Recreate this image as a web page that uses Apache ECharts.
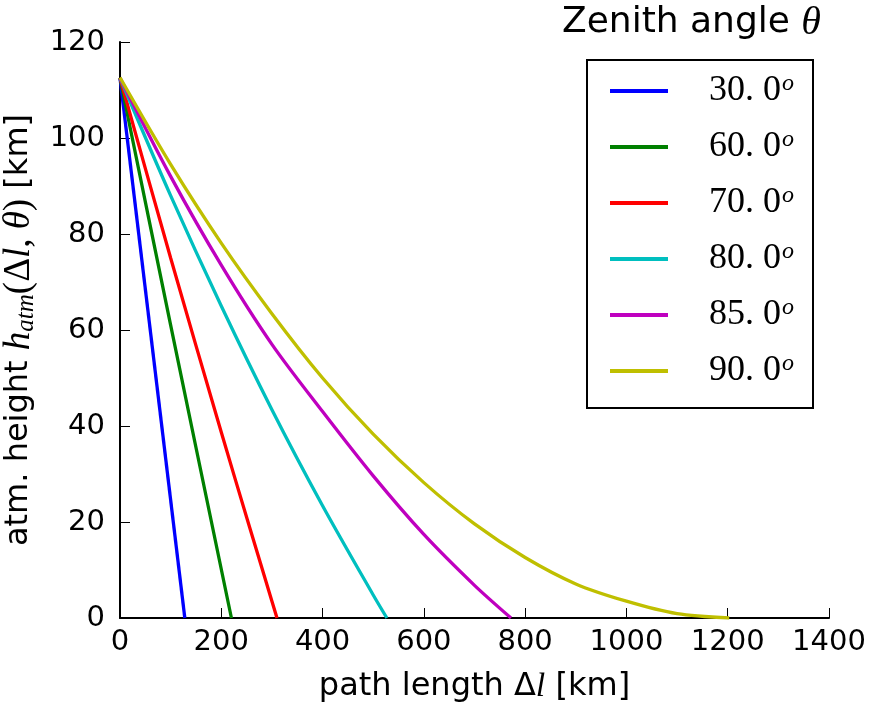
<!DOCTYPE html>
<html>
<head>
<meta charset="utf-8">
<script src="https://cdn.jsdelivr.net/npm/echarts@6/dist/echarts.min.js"></script>
<style>
  html, body { margin: 0; padding: 0; background: #fff; }
  #chart { width: 872px; height: 706px; }
</style>
</head>
<body>
<div id="chart"></div>
<script>
// zenith angles (legend labels)
var angleNames = ["30.0", "60.0", "70.0", "80.0", "85.0", "90.0"];
var lineColors = ["#0000ff", "#008000", "#ff0000", "#00bfbf", "#bf00bf", "#bfbf00"];

// path length [km] / height [km]
var path30 = [0, 128];
var height30 = [112.5, 0];
var path60 = [0, 100, 220];
var height60 = [112.5, 61, 0];
var path70 = [0, 100, 200, 254, 300, 310];
var height70 = [112.5, 75, 38.7, 19.6, 3.5, 0];
var path80 = [0, 100, 200, 300, 400, 500, 527];
var height80 = [112.5, 88, 65, 43.4, 23.4, 4.8, 0];
var path85 = [0, 100, 200, 300, 400, 500, 600, 700, 772];
var height85 = [112.5, 92, 73.5, 57, 43, 29.6, 17.4, 6.8, 0];
var path90 = [0, 100, 200, 300, 400, 500, 600, 700, 800, 900, 1000, 1100, 1203];
var height90 = [112.6, 94.5, 78.1, 63.4, 50, 38.3, 28.2, 19.6, 12.6, 7.1, 3.5, 0.9, 0];

var xTicks = [0, 1400, 200];   // min, max, step
var yTicks = [0, 120, 20];

var paths = [path30, path60, path70, path80, path85, path90];
var heights = [height30, height60, height70, height80, height85, height90];

var chart = echarts.init(document.getElementById("chart"));

var seriesList = angleNames.map(function (name, i) {
  return {
    name: name,
    type: "line",
    symbol: "none",
    smooth: 0.3,
    lineStyle: { color: lineColors[i], width: 3.3 },
    itemStyle: { color: lineColors[i] },
    data: paths[i].map(function (l, k) { return [l, heights[i][k]]; }),
  };
});

var mathFont = "Liberation Serif";
var option = {
  animation: false,
  backgroundColor: "#fff",
  title: {
    left: 557,
    top: -5,
    text: "{a|Zenith angle }{b|θ}",
    textStyle: {
      fontWeight: "normal",
      rich: {
        a: { fontFamily: "DejaVu Sans", fontWeight: "normal", fontSize: 36, color: "#000", lineHeight: 46 },
        b: { fontFamily: mathFont, fontWeight: "normal", fontStyle: "italic", fontSize: 40, color: "#000", lineHeight: 46 },
      },
    },
  },
  legend: {
    orient: "vertical",
    left: 587,
    top: 60,
    padding: [12, 19, 18, 23],
    itemGap: 18,
    itemWidth: 58,
    itemHeight: 4,
    icon: "rect",
    borderColor: "#000",
    borderWidth: 2,
    borderRadius: 0,
    data: angleNames,
    formatter: function (name) {
      return "{n|" + name.replace(".", ". ") + "}{s|o}";
    },
    textStyle: {
      rich: {
        n: { fontFamily: mathFont, fontSize: 36, color: "#000", lineHeight: 40, padding: [0, 0, 0, 36] },
        s: { fontFamily: mathFont, fontStyle: "italic", fontSize: 24, color: "#000", lineHeight: 40, padding: [0, 0, 14, 1] },
      },
    },
  },
  grid: { left: 120, right: 43, top: 42, bottom: 88, outerBoundsMode: "none" },
  xAxis: {
    type: "value",
    min: xTicks[0],
    max: xTicks[1],
    interval: xTicks[2],
    name: "{a|path length Δ}{i|l}{a| [km]}",
    nameLocation: "middle",
    nameGap: 52,
    nameTextStyle: {
      rich: {
        a: { fontFamily: "DejaVu Sans", fontSize: 32, color: "#000" },
        i: { fontFamily: mathFont, fontStyle: "italic", fontSize: 34, color: "#000" },
      },
    },
    axisLine: { show: true, onZero: false, lineStyle: { color: "#000", width: 2 } },
    axisTick: { show: true, inside: true, length: 10, lineStyle: { color: "#000", width: 1 } },
    axisLabel: {
      fontFamily: "DejaVu Sans", fontSize: 29, color: "#000", margin: 10,
      formatter: function (v) { return String(v); },
    },
    splitLine: { show: false },
  },
  yAxis: {
    type: "value",
    min: yTicks[0],
    max: yTicks[1],
    interval: yTicks[2],
    name: "{a|atm. height }{mi|h}{s|atm}{m|(Δ}{mi|l}{m|, }{mi|θ}{m|)}{a| [km]}",
    nameLocation: "middle",
    nameRotate: 90,
    nameGap: 82,
    nameTextStyle: {
      rich: {
        a: { fontFamily: "DejaVu Sans", fontSize: 32, color: "#000", lineHeight: 38 },
        m: { fontFamily: mathFont, fontSize: 37, color: "#000", lineHeight: 38 },
        mi: { fontFamily: mathFont, fontStyle: "italic", fontSize: 37, color: "#000", lineHeight: 38 },
        s: { fontFamily: mathFont, fontStyle: "italic", fontSize: 25, color: "#000", lineHeight: 38, padding: [14, 0, 0, 0] },
      },
    },
    axisLine: { show: true, lineStyle: { color: "#000", width: 2 } },
    axisTick: { show: true, inside: true, length: 10, lineStyle: { color: "#000", width: 1 } },
    axisLabel: { fontFamily: "DejaVu Sans", fontSize: 29, color: "#000", margin: 15 },
    splitLine: { show: false },
  },
  series: seriesList,
};

chart.setOption(option);
</script>
</body>
</html>
